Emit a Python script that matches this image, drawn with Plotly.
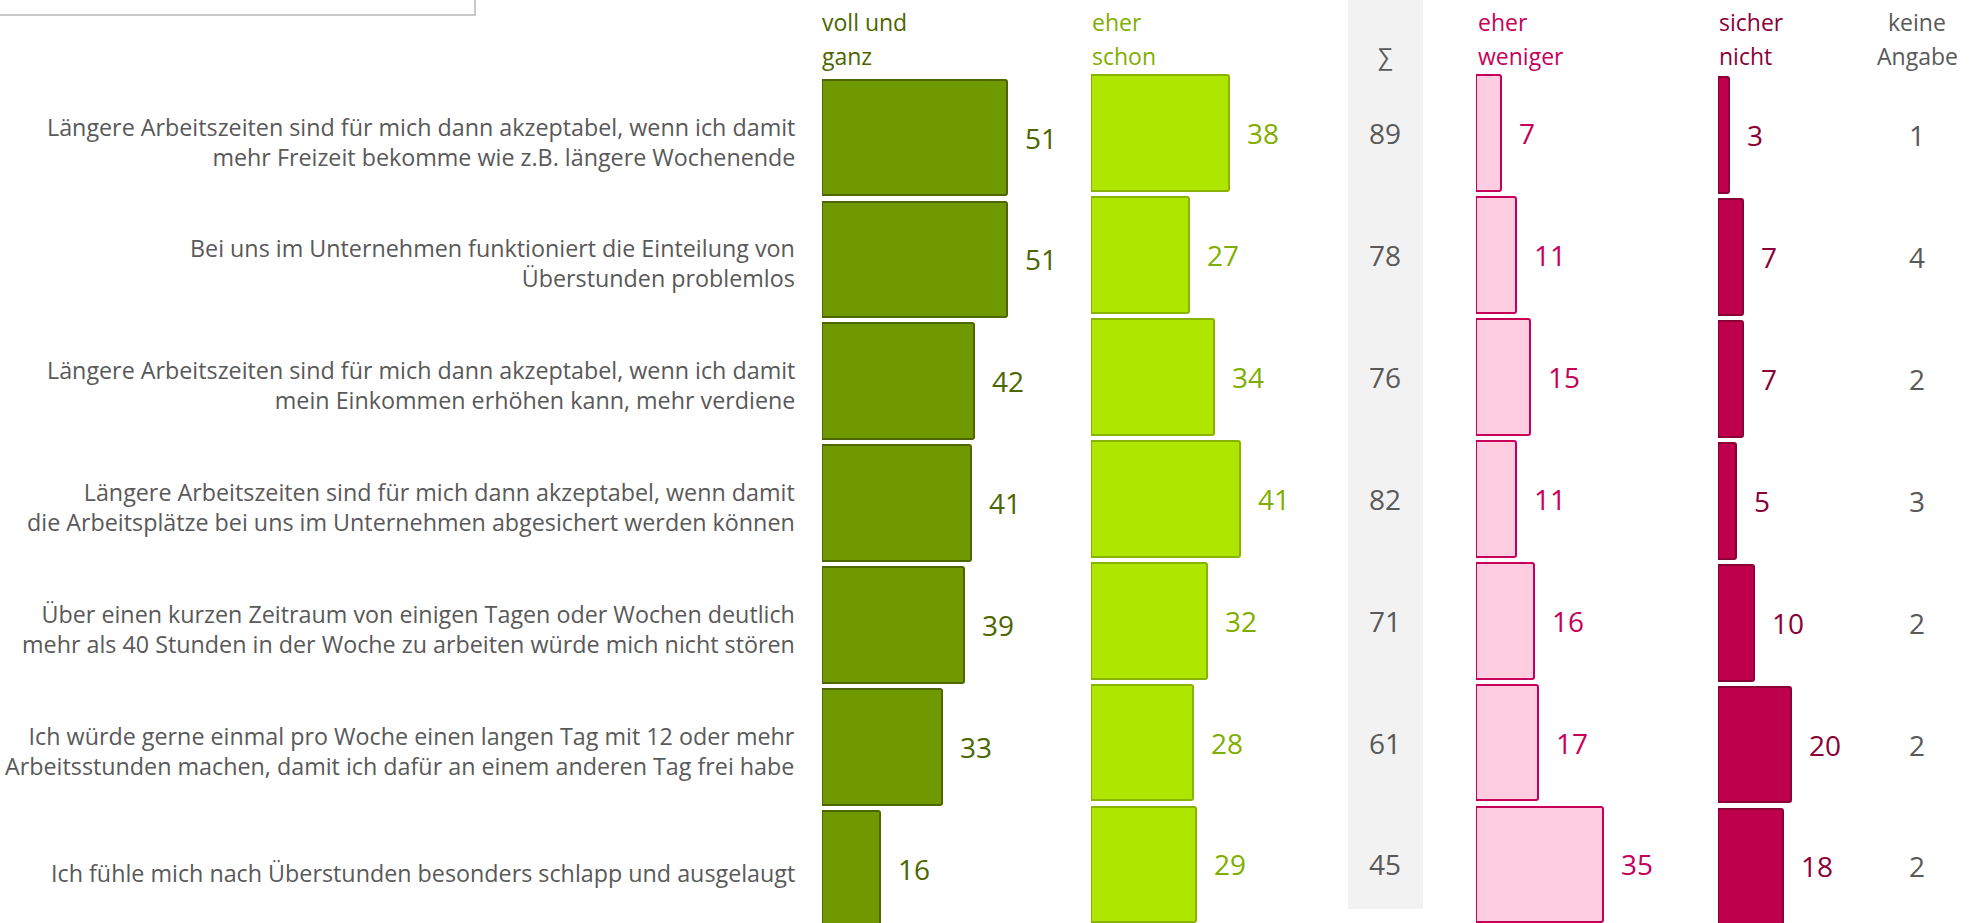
import plotly.graph_objects as go

# Survey statements (top to bottom)
statements = [
    "Längere Arbeitszeiten sind für mich dann akzeptabel, wenn ich damit<br>mehr Freizeit bekomme wie z.B. längere Wochenende",
    "Bei uns im Unternehmen funktioniert die Einteilung von<br>Überstunden problemlos",
    "Längere Arbeitszeiten sind für mich dann akzeptabel, wenn ich damit<br>mein Einkommen erhöhen kann, mehr verdiene",
    "Längere Arbeitszeiten sind für mich dann akzeptabel, wenn damit<br>die Arbeitsplätze bei uns im Unternehmen abgesichert werden können",
    "Über einen kurzen Zeitraum von einigen Tagen oder Wochen deutlich<br>mehr als 40 Stunden in der Woche zu arbeiten würde mich nicht stören",
    "Ich würde gerne einmal pro Woche einen langen Tag mit 12 oder mehr<br>Arbeitsstunden machen, damit ich dafür an einem anderen Tag frei habe",
    "Ich fühle mich nach Überstunden besonders schlapp und ausgelaugt",
]

# Answer shares in percent
voll_und_ganz = [51, 51, 42, 41, 39, 33, 16]
eher_schon = [38, 27, 34, 41, 32, 28, 29]
summe_zustimmung = [89, 78, 76, 82, 71, 61, 45]
eher_weniger = [7, 11, 15, 11, 16, 17, 35]
sicher_nicht = [3, 7, 7, 5, 10, 20, 18]
keine_angabe = [1, 4, 2, 3, 2, 2, 2]

# Column headers, one entry per line
header_voll = ["voll und", "ganz"]
header_schon = ["eher", "schon"]
header_summe = "∑"
header_weniger = ["eher", "weniger"]
header_nicht = ["sicher", "nicht"]
header_keine = ["keine", "Angabe"]

W, H = 1977, 923
FONT = "Open Sans"
GREY = "#595959"
PX_PER_UNIT = 3.63
ROW_PITCH = 121.9

rows = list(range(len(statements)))


def px(xp):
    return xp / W


def py(yp):
    return 1 - yp / H


fig = go.Figure()

# column definitions: (values, start px, width px, row-1 centre px, fill, line, text colour)
columns = [
    (voll_und_ganz, 822, 240, 137.5, "#709900", "#4d6600", "#4d6600"),
    (eher_schon, 1091, 200, 133.0, "#aee600", "#88b400", "#7fae00"),
    (eher_weniger, 1476, 170, 133.0, "#ffcde0", "#c6005a", "#c6005a"),
    (sicher_nicht, 1718, 150, 135.0, "#be004c", "#8a0036", "#8a0036"),
]

annotations = []
for k, (vals, x0, wpx, yc, fill, line, tcol) in enumerate(columns, start=1):
    xa = "x" if k == 1 else f"x{k}"
    ya = "y" if k == 1 else f"y{k}"
    fig.add_trace(go.Bar(
        x=vals, y=rows, orientation="h",
        xaxis=xa, yaxis=ya, width=0.95,
        marker=dict(color=fill, line=dict(color=line, width=2), cornerradius=2),
        hoverinfo="skip", showlegend=False,
    ))
    ax_name = "xaxis" if k == 1 else f"xaxis{k}"
    ay_name = "yaxis" if k == 1 else f"yaxis{k}"
    fig.update_layout(**{
        ax_name: dict(domain=[px(x0), px(x0 + wpx)], range=[0, wpx / PX_PER_UNIT],
                      visible=False, fixedrange=True, anchor=ya),
        ay_name: dict(domain=[0, 1], range=[(H - yc) / ROW_PITCH, -yc / ROW_PITCH],
                      visible=False, fixedrange=True, anchor=xa),
    })
    for i, v in zip(rows, vals):
        annotations.append(dict(
            x=v, y=i, xref=xa, yref=ya, text=str(v), showarrow=False,
            xanchor="left", yanchor="middle", xshift=16,
            font=dict(family=FONT, size=28, color=tcol),
        ))

# statement labels, right aligned next to the first bar column
for i, s in zip(rows, statements):
    annotations.append(dict(
        x=px(797), y=i, xref="paper", yref="y", text=s, showarrow=False,
        xanchor="right", yanchor="middle", align="right", yshift=-4,
        font=dict(family=FONT, size=23.3, color=GREY),
    ))

# sum of agreement and "no answer" columns
for i, v in zip(rows, summe_zustimmung):
    annotations.append(dict(
        x=px(1385), y=i, xref="paper", yref="y2", text=str(v), showarrow=False,
        xanchor="center", yanchor="middle",
        font=dict(family=FONT, size=28, color=GREY),
    ))
for i, v in zip(rows, keine_angabe):
    annotations.append(dict(
        x=px(1917), y=i, xref="paper", yref="y4", text=str(v), showarrow=False,
        xanchor="center", yanchor="middle",
        font=dict(family=FONT, size=28, color=GREY),
    ))

# column headers, two lines each
headers = [
    (header_voll, 820, "left", "#4d6600"),
    (header_schon, 1090, "left", "#7fae00"),
    (header_weniger, 1476, "left", "#c6005a"),
    (header_nicht, 1717, "left", "#8a0036"),
    (header_keine, 1917, "center", GREY),
]
for lines, x0, anchor, col in headers:
    for line_text, yp in zip(lines, (22, 56)):
        annotations.append(dict(
            x=px(x0), y=py(yp), xref="paper", yref="paper", text=line_text,
            showarrow=False, xanchor=anchor, yanchor="middle",
            font=dict(family=FONT, size=23, color=col),
        ))
annotations.append(dict(
    x=px(1385), y=py(56), xref="paper", yref="paper", text=header_summe, showarrow=False,
    xanchor="center", yanchor="middle",
    font=dict(family=FONT, size=23, color=GREY),
))

shapes = [
    # shaded band behind the sum column
    dict(type="rect", xref="paper", yref="paper", x0=px(1348), x1=px(1423),
         y0=py(909), y1=1.01, fillcolor="#f2f2f2", line=dict(width=0), layer="below"),
    # frame of the note box in the top-left corner
    dict(type="rect", xref="paper", yref="paper", x0=-0.01, x1=px(475),
         y0=py(15), y1=1.05, fillcolor="rgba(0,0,0,0)",
         line=dict(color="#c8c8c8", width=2), layer="above"),
]

fig.update_layout(
    width=W, height=H,
    margin=dict(l=0, r=0, t=0, b=0),
    paper_bgcolor="white", plot_bgcolor="rgba(0,0,0,0)",
    barmode="overlay", bargap=0,
    annotations=annotations, shapes=shapes,
    font=dict(family=FONT, color=GREY),
)

fig.write_html("out.html")
